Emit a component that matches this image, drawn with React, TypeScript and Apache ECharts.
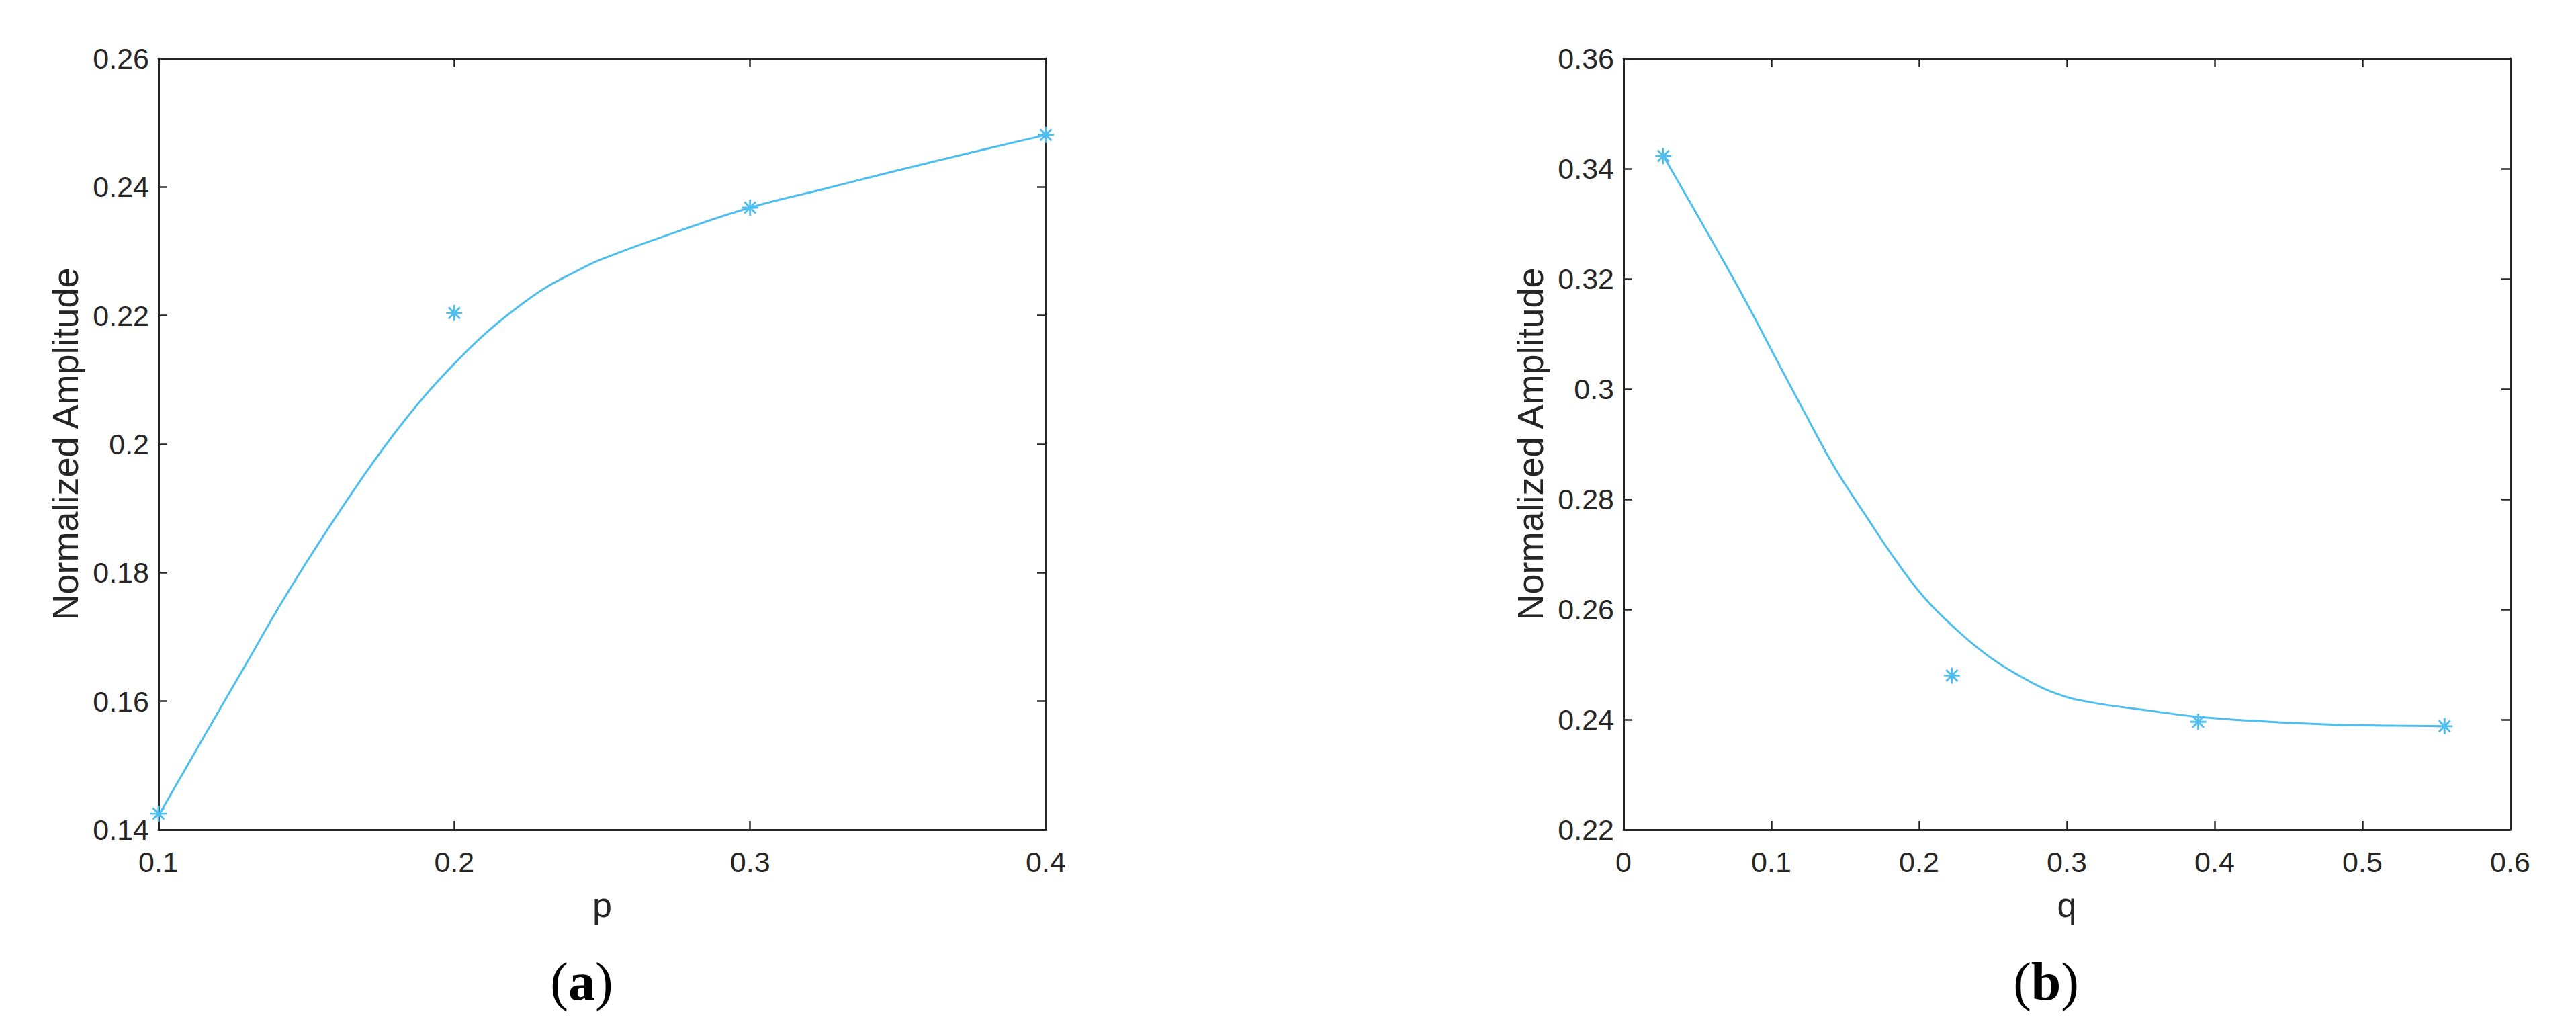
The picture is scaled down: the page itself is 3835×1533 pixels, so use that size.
import React, { useEffect, useRef } from "react";
import * as echarts from "echarts";

// ---- data (a) ----
const pTicks = [0.1, 0.2, 0.3, 0.4];
const pX = [0.1, 0.2, 0.3, 0.4];
const pY = [0.1425, 0.2204, 0.2368, 0.2481];
const pFitX = [0.1, 0.11, 0.12, 0.13, 0.14, 0.15, 0.16, 0.17, 0.18, 0.19, 0.2, 0.21, 0.22, 0.23, 0.24, 0.25, 0.275, 0.3, 0.325, 0.35, 0.375, 0.4];
const pFitY = [0.1422, 0.1502, 0.1582, 0.1661, 0.1741, 0.1816, 0.1887, 0.1955, 0.2018, 0.2075, 0.2125, 0.217, 0.2208, 0.2241, 0.2266, 0.2288, 0.233, 0.2368, 0.2397, 0.2426, 0.2454, 0.2481];

// ---- data (b) ----
const qX = [0.027, 0.2222, 0.3889, 0.5556];
const qY = [0.3423, 0.248, 0.2396, 0.2388];
const qFitX = [0.027, 0.042, 0.062, 0.083, 0.103, 0.123, 0.143, 0.164, 0.184, 0.204, 0.225, 0.245, 0.265, 0.293, 0.319, 0.351, 0.389, 0.437, 0.48, 0.522, 0.5556];
const qFitY = [0.3423, 0.3353, 0.3259, 0.3158, 0.3056, 0.2955, 0.2857, 0.277, 0.269, 0.262, 0.2564, 0.2519, 0.2484, 0.2447, 0.243, 0.2418, 0.2405, 0.2396, 0.2391, 0.2389, 0.2388];

const LINE = "#4DBEEE";
const AX = "#262626";
const FONT = "Liberation Sans";

const STAR =
  "path://M-1.2,-10L1.2,-10L1.2,10L-1.2,10Z" +
  "M-10,-1.2L10,-1.2L10,1.2L-10,1.2Z" +
  "M-7.9,-6.2L-6.2,-7.9L7.9,6.2L6.2,7.9Z" +
  "M-6.2,7.9L-7.9,6.2L6.2,-7.9L7.9,-6.2Z";

const fmt1 = (v: number) => String(+v.toFixed(1));
const fmt2 = (v: number) => String(+v.toFixed(2));

function xAx(grid: number, min: number, max: number, pos: "bottom" | "top", name: string) {
  const main = pos === "bottom";
  return {
    type: "value",
    gridIndex: grid,
    position: pos,
    min,
    max,
    interval: 0.1,
    name: main ? name : "",
    nameLocation: "middle",
    nameGap: 86,
    nameTextStyle: { fontFamily: FONT, fontSize: 52, color: AX },
    axisLine: { show: true, onZero: false, lineStyle: { color: AX, width: 3 } },
    axisTick: { show: true, inside: true, length: 13, lineStyle: { color: AX, width: 2.5 } },
    axisLabel: { show: main, margin: 26, fontFamily: FONT, fontSize: 43, color: AX, formatter: fmt1 },
    splitLine: { show: false },
  };
}

function yAx(grid: number, min: number, max: number, pos: "left" | "right", name: string) {
  const main = pos === "left";
  return {
    type: "value",
    gridIndex: grid,
    position: pos,
    min,
    max,
    interval: 0.02,
    name: main ? name : "",
    nameLocation: "middle",
    nameGap: 112,
    nameTextStyle: { fontFamily: FONT, fontSize: 54, color: AX },
    axisLine: { show: true, onZero: false, lineStyle: { color: AX, width: 3 } },
    axisTick: { show: true, inside: true, length: 13, lineStyle: { color: AX, width: 2.5 } },
    axisLabel: { show: main, margin: 14, fontFamily: FONT, fontSize: 43, color: AX, formatter: fmt2 },
    splitLine: { show: false },
  };
}

export default function App() {
  const ref = useRef<HTMLDivElement>(null);
  useEffect(() => {
    document.body.style.margin = "0";
    if (!ref.current) return;
    const chart = echarts.init(ref.current, undefined, { renderer: "svg" });
    const pairs = (xs: number[], ys: number[]) => xs.map((x, i) => [x, ys[i]]);
    chart.setOption({
      animation: false,
      backgroundColor: "#ffffff",
      grid: [
        { left: 236, top: 87, width: 1321, height: 1148 },
        { left: 2417, top: 87, width: 1320, height: 1148 },
      ],
      xAxis: [
        xAx(0, pTicks[0], pTicks[pTicks.length - 1], "bottom", "p"),
        xAx(0, pTicks[0], pTicks[pTicks.length - 1], "top", ""),
        xAx(1, 0, 0.6, "bottom", "q"),
        xAx(1, 0, 0.6, "top", ""),
      ],
      yAxis: [
        yAx(0, 0.14, 0.26, "left", "Normalized Amplitude"),
        yAx(0, 0.14, 0.26, "right", ""),
        yAx(1, 0.22, 0.36, "left", "Normalized Amplitude"),
        yAx(1, 0.22, 0.36, "right", ""),
      ],
      series: [
        {
          type: "line",
          xAxisIndex: 0,
          yAxisIndex: 0,
          data: pairs(pFitX, pFitY),
          smooth: 0.4,
          showSymbol: false,
          lineStyle: { color: LINE, width: 3 },
        },
        {
          type: "scatter",
          xAxisIndex: 0,
          yAxisIndex: 0,
          data: pairs(pX, pY),
          symbol: STAR,
          symbolSize: 24,
          symbolKeepAspect: true,
          itemStyle: { color: LINE, opacity: 1 },
        },
        {
          type: "line",
          xAxisIndex: 2,
          yAxisIndex: 2,
          data: pairs(qFitX, qFitY),
          smooth: 0.4,
          showSymbol: false,
          lineStyle: { color: LINE, width: 3 },
        },
        {
          type: "scatter",
          xAxisIndex: 2,
          yAxisIndex: 2,
          data: pairs(qX, qY),
          symbol: STAR,
          symbolSize: 24,
          symbolKeepAspect: true,
          itemStyle: { color: LINE, opacity: 1 },
        },
      ],
      graphic: [
        {
          type: "text",
          x: 866,
          y: 1461,
          style: {
            text: "({b|a})",
            fontFamily: "Liberation Serif",
            fontSize: 80,
            fill: "#000000",
            align: "center",
            verticalAlign: "middle",
            rich: { b: { fontFamily: "Liberation Serif", fontSize: 80, fontWeight: "bold", fill: "#000000" } },
          },
        },
        {
          type: "text",
          x: 3046,
          y: 1461,
          style: {
            text: "({b|b})",
            fontFamily: "Liberation Serif",
            fontSize: 80,
            fill: "#000000",
            align: "center",
            verticalAlign: "middle",
            rich: { b: { fontFamily: "Liberation Serif", fontSize: 80, fontWeight: "bold", fill: "#000000" } },
          },
        },
      ],
    });
    return () => chart.dispose();
  }, []);
  return <div ref={ref} style={{ width: 3835, height: 1533 }} />;
}
